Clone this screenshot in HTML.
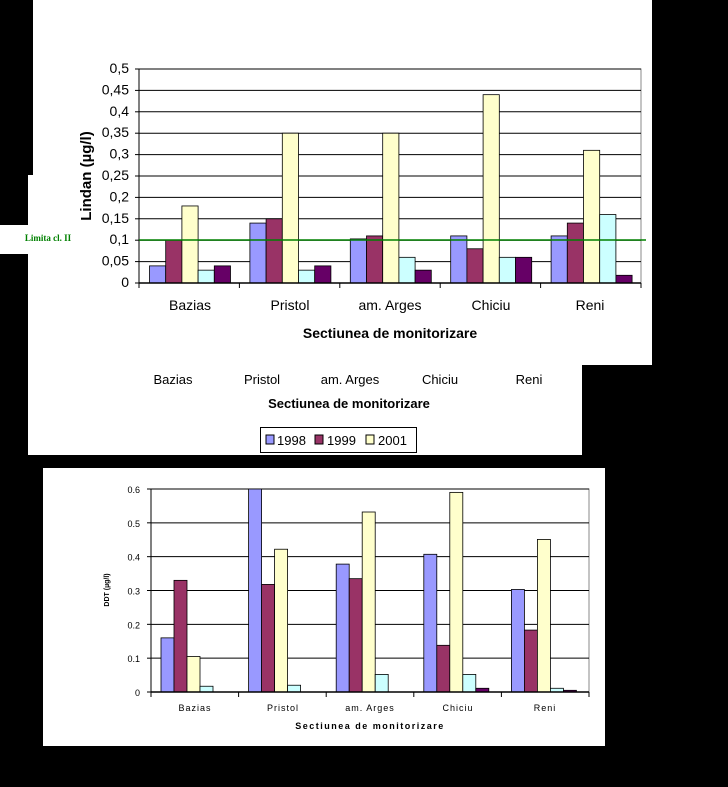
<!DOCTYPE html>
<html><head><meta charset="utf-8"><style>
html,body{margin:0;padding:0;background:#000;}
svg{display:block;}
text{font-family:"Liberation Sans",Arial,sans-serif;}
</style></head><body>
<svg id="s" width="728" height="787" xmlns="http://www.w3.org/2000/svg">
<rect width="728" height="787" fill="#000"/>
<rect x="33" y="0" width="619" height="365" fill="#fff"/>
<rect x="28" y="175" width="10" height="280" fill="#fff"/>
<rect x="28" y="365" width="554" height="90" fill="#fff"/>
<rect x="0" y="225" width="30" height="29" fill="#fff"/>
<g id="topc"></g>
<text x="48" y="241" style="font-family:'Liberation Serif',serif" font-size="9" font-weight="bold" fill="#008000" text-anchor="middle">Limita cl. II</text>
<g font-size="14" fill="#000" text-anchor="end" id="ty"></g>
<g font-size="14" text-anchor="middle">
<text x="190" y="310">Bazias</text><text x="290" y="310">Pristol</text><text x="390" y="310">am. Arges</text><text x="491" y="310">Chiciu</text><text x="590" y="310">Reni</text>
</g>
<text x="390" y="338" font-size="14" font-weight="bold" text-anchor="middle">Sectiunea de monitorizare</text>
<text transform="translate(91,176) rotate(-90)" font-size="15" font-weight="bold" text-anchor="middle">Lindan (µg/l)</text>
<g font-size="13" text-anchor="middle">
<text x="173" y="384">Bazias</text><text x="262" y="384">Pristol</text><text x="350" y="384">am. Arges</text><text x="440" y="384">Chiciu</text><text x="529" y="384">Reni</text>
</g>
<text x="349" y="408" font-size="13" font-weight="bold" text-anchor="middle">Sectiunea de monitorizare</text>
<rect x="260.5" y="427.5" width="156" height="25" fill="#fff" stroke="#000"/>
<rect x="266" y="435" width="8" height="9" fill="#9999FF" stroke="#000"/><text x="277" y="445" font-size="13">1998</text>
<rect x="315" y="435" width="8" height="9" fill="#993366" stroke="#000"/><text x="327" y="445" font-size="13">1999</text>
<rect x="366" y="435" width="8" height="9" fill="#FFFFCC" stroke="#000"/><text x="378" y="445" font-size="13">2001</text>
<rect x="43" y="468" width="562" height="278" fill="#fff"/>
<g id="botc"></g>
<g font-size="9" fill="#000" text-anchor="end" id="by"></g>
<g font-size="9" text-anchor="middle" letter-spacing="1">
<text x="195" y="711">Bazias</text><text x="283" y="711">Pristol</text><text x="370" y="711">am. Arges</text><text x="458" y="711">Chiciu</text><text x="545" y="711">Reni</text>
</g>
<text x="370" y="729" font-size="9" font-weight="bold" letter-spacing="1.5" text-anchor="middle">Sectiunea de monitorizare</text>
<text transform="translate(109,590) rotate(-90)" font-size="7" font-weight="bold" text-anchor="middle">DDT (µg/l)</text>
</svg>
<script>
(function(){
var NS="http://www.w3.org/2000/svg";
function el(p,t,a){var e=document.createElementNS(NS,t);for(var k in a)e.setAttribute(k,a[k]);p.appendChild(e);return e;}
var cols=["#9999FF","#993366","#FFFFCC","#CCFFFF","#660066"];
function chart(g,x0,x1,y0,y1,max,step,data,bw,off,labG,fmt,lx){
  var n=Math.round(max/step);
  el(g,"rect",{x:x0,y:y1,width:x1-x0,height:y0-y1,fill:"#fff",stroke:"#888"});
  for(var i=0;i<=n;i++){var y=y0-(y0-y1)*i/n;
    el(g,"line",{x1:x0,x2:x1,y1:y,y2:y,stroke:"#000","stroke-width":1});
    el(g,"line",{x1:x0-4,x2:x0,y1:y,y2:y,stroke:"#000"});
    var t=el(labG,"text",{x:lx,y:y+4});t.textContent=fmt(i*step);}
  var gw=(x1-x0)/5;
  for(var c=0;c<5;c++){
    el(g,"line",{x1:x0+gw*c,x2:x0+gw*c,y1:y0,y2:y0+5,stroke:"#000"});
    for(var b=0;b<5;b++){var v=data[c][b];if(v<=0)continue;var h=(y0-y1)*v/max;
      el(g,"rect",{x:x0+gw*c+off+bw*b,y:y0-h,width:bw,height:h,fill:cols[b],stroke:"#000","stroke-width":0.8});}}
  el(g,"line",{x1:x1,x2:x1,y1:y0,y2:y0+5,stroke:"#000"});
  el(g,"line",{x1:x0,x2:x1,y1:y0,y2:y0,stroke:"#000","stroke-width":1.5});
  el(g,"line",{x1:x0,x2:x0,y1:y1,y2:y0+5,stroke:"#000"});
}
var tg=document.getElementById("topc");
chart(tg,139,641,283,69,0.5,0.05,[[0.04,0.1,0.18,0.03,0.04],[0.14,0.15,0.35,0.03,0.04],[0.103,0.11,0.35,0.06,0.03],[0.11,0.08,0.44,0.06,0.06],[0.11,0.14,0.31,0.16,0.018]],16.2,10.5,document.getElementById("ty"),function(v){return v===0?"0":(+v.toFixed(2)).toString().replace(".",",");},129);
el(tg,"line",{x1:139,x2:646,y1:240,y2:240,stroke:"#008000","stroke-width":1.5});
chart(document.getElementById("botc"),151,589,692,489,0.6,0.1,[[0.16,0.33,0.105,0.017,0],[0.6,0.318,0.422,0.02,0],[0.378,0.335,0.532,0.052,0],[0.407,0.138,0.59,0.052,0.011],[0.303,0.183,0.451,0.011,0.005]],13,10,document.getElementById("by"),function(v){return v===0?"0":v.toFixed(1);},140);
})();
</script>
</body></html>
